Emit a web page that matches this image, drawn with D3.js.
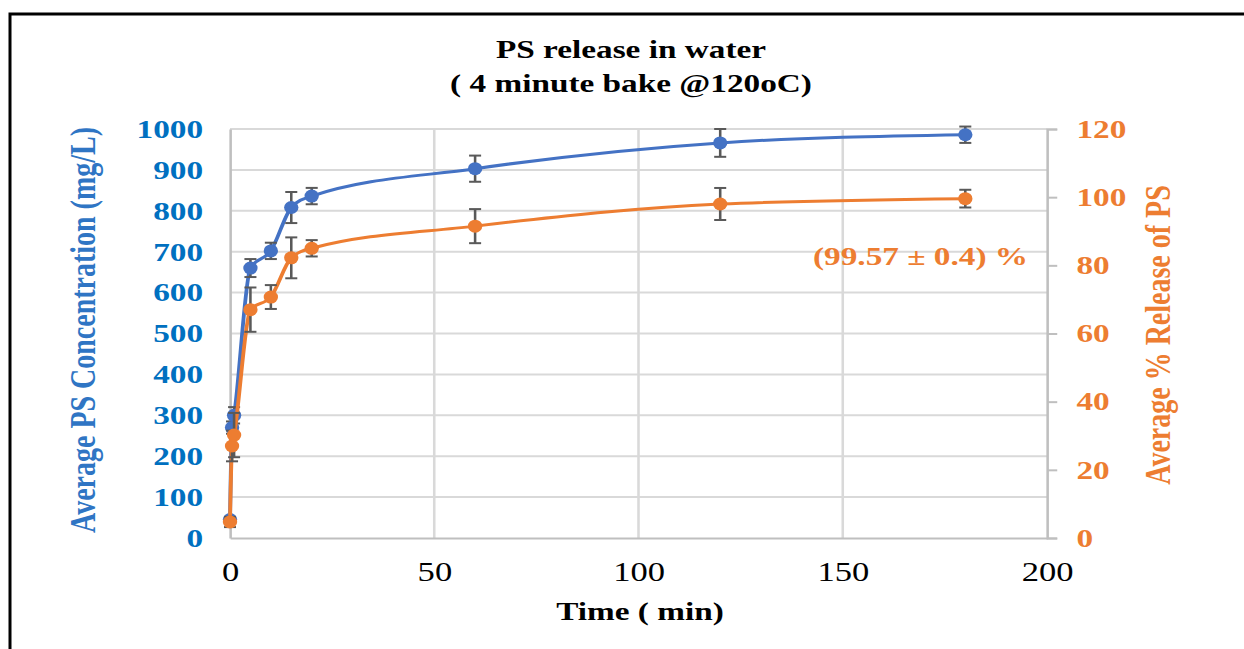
<!DOCTYPE html>
<html>
<head>
<meta charset="utf-8">
<script src="https://cdn.jsdelivr.net/npm/d3@7"></script>
<style>
  body { margin: 0; background: #fff; }
  text { font-family: "Liberation Serif", "Times New Roman", serif; }
</style>
</head>
<body>
<svg id="chart" width="1244" height="649"></svg>
<script>
// data
var times = [0, 0.5, 1, 5, 10, 15, 20, 60, 120, 180];
var concentration = [45, 270, 300, 660, 702, 808, 836, 903, 966, 986];   // mg/L
var concErr = [5, 15, 20, 22, 20, 38, 20, 32, 34, 20];
var release = [4.7, 27, 30.2, 67, 70.7, 82.2, 85, 91.5, 98, 99.57];      // %
var releaseErr = [1.5, 4.5, 6.5, 6.5, 3.5, 6, 2.4, 5, 4.7, 2.6];
var xTicks = [0, 50, 100, 150, 200];
var leftTicks = [0, 100, 200, 300, 400, 500, 600, 700, 800, 900, 1000];
var rightTicks = [0, 20, 40, 60, 80, 100, 120];

var svg = d3.select("#chart"),
  sx = 1.28,   // the original picture is stretched sideways
  blue = "#4472C4",
  orange = "#ED7D31";

// outer frame
svg.append("rect")
  .attr("x", 10).attr("y", 14)
  .attr("width", 1400).attr("height", 800)
  .attr("fill", "none").attr("stroke", "#000").attr("stroke-width", 3);

var g = svg.append("g").attr("transform", "scale(" + sx + ",1)");

var x = d3.scaleLinear().domain([0, 200]).range([230 / sx, 1047 / sx]),
  yL = d3.scaleLinear().domain([0, 1000]).range([538, 129]),
  yR = d3.scaleLinear().domain([0, 120]).range([538, 129]);

// grid
g.append("g").selectAll("line")
  .data(leftTicks.slice(1))
  .join("line")
  .attr("x1", x(0)).attr("x2", x(200))
  .attr("y1", function (d) { return yL(d); })
  .attr("y2", function (d) { return yL(d); })
  .attr("stroke", "#d9d9d9").attr("stroke-width", 2);

g.append("g").selectAll("line")
  .data(xTicks.slice(1, -1))
  .join("line")
  .attr("x1", function (d) { return x(d); })
  .attr("x2", function (d) { return x(d); })
  .attr("y1", yL(0)).attr("y2", yL(1000))
  .attr("stroke", "#d9d9d9").attr("stroke-width", 2);

// axes
var axL = g.append("g")
  .attr("transform", "translate(" + x(0) + ",0)")
  .call(d3.axisLeft(yL).tickValues(leftTicks).tickFormat(d3.format("d")).tickSize(0).tickPadding(21));
axL.selectAll("text")
  .attr("fill", "#0070C0").attr("font-size", 26).attr("font-weight", "bold")
  .style("font-family", "Liberation Serif");

var axR = g.append("g")
  .attr("transform", "translate(" + x(200) + ",0)")
  .call(d3.axisRight(yR).tickValues(rightTicks).tickFormat(d3.format("d")).tickSize(8).tickPadding(15));
axR.selectAll("text")
  .attr("fill", orange).attr("font-size", 26).attr("font-weight", "bold")
  .style("font-family", "Liberation Serif");

var axB = g.append("g")
  .attr("transform", "translate(0," + yL(0) + ")")
  .call(d3.axisBottom(x).tickValues(xTicks).tickFormat(d3.format("d")).tickSize(0).tickPadding(24));
axB.selectAll("text")
  .attr("fill", "#000").attr("font-size", 27)
  .style("font-family", "Liberation Serif");

g.selectAll(".domain").attr("stroke", "#bfbfbf").attr("stroke-width", 2);
g.selectAll(".tick line").attr("stroke", "#bfbfbf").attr("stroke-width", 2);

// series
function drawSeries(vals, errs, y, color) {
  var pts = times.map(function (t, i) { return { t: t, v: vals[i], e: errs[i] }; });
  var line = d3.line()
    .x(function (d) { return x(d.t); })
    .y(function (d) { return y(d.v); })
    .curve(d3.curveMonotoneX);

  g.append("path")
    .datum(pts)
    .attr("d", line)
    .attr("fill", "none")
    .attr("stroke", color)
    .attr("stroke-width", 3);

  var eb = g.append("g").attr("stroke", "#595959").attr("stroke-width", 2);
  pts.forEach(function (d) {
    var cx = x(d.t), c = 4.7;
    eb.append("line").attr("x1", cx).attr("x2", cx)
      .attr("y1", y(d.v - d.e)).attr("y2", y(d.v + d.e));
    eb.append("line").attr("x1", cx - c).attr("x2", cx + c)
      .attr("y1", y(d.v - d.e)).attr("y2", y(d.v - d.e));
    eb.append("line").attr("x1", cx - c).attr("x2", cx + c)
      .attr("y1", y(d.v + d.e)).attr("y2", y(d.v + d.e));
  });

  g.append("g").selectAll("ellipse")
    .data(pts)
    .join("ellipse")
    .attr("cx", function (d) { return x(d.t); })
    .attr("cy", function (d) { return y(d.v); })
    .attr("rx", 5.6).attr("ry", 6.5)
    .attr("fill", color);
}

drawSeries(concentration, concErr, yL, blue);
drawSeries(release, releaseErr, yR, orange);

// titles
g.append("text")
  .attr("x", 631 / sx).attr("y", 58)
  .attr("text-anchor", "middle")
  .attr("font-size", 26).attr("font-weight", "bold")
  .text("PS release in water");
g.append("text")
  .attr("x", 631 / sx).attr("y", 92)
  .attr("text-anchor", "middle")
  .attr("font-size", 26).attr("font-weight", "bold")
  .text("( 4 minute bake @120oC)");

g.append("text")
  .attr("x", 640 / sx).attr("y", 620)
  .attr("text-anchor", "middle")
  .attr("font-size", 26).attr("font-weight", "bold")
  .text("Time ( min)");

g.append("text")
  .attr("transform", "translate(" + (95 / sx) + ",330) rotate(-90)")
  .attr("text-anchor", "middle")
  .attr("fill", "#2F75C4")
  .attr("font-size", 28).attr("font-weight", "bold")
  .text("Average PS Concentration (mg/L)");

g.append("text")
  .attr("transform", "translate(" + (1170 / sx) + ",335) rotate(-90)")
  .attr("text-anchor", "middle")
  .attr("fill", orange)
  .attr("font-size", 28).attr("font-weight", "bold")
  .text("Average % Release of PS");

g.append("text")
  .attr("x", 813 / sx).attr("y", 265)
  .attr("fill", orange)
  .attr("font-size", 26).attr("font-weight", "bold")
  .text("(99.57 \u00b1 0.4) %");
</script>
</body>
</html>
